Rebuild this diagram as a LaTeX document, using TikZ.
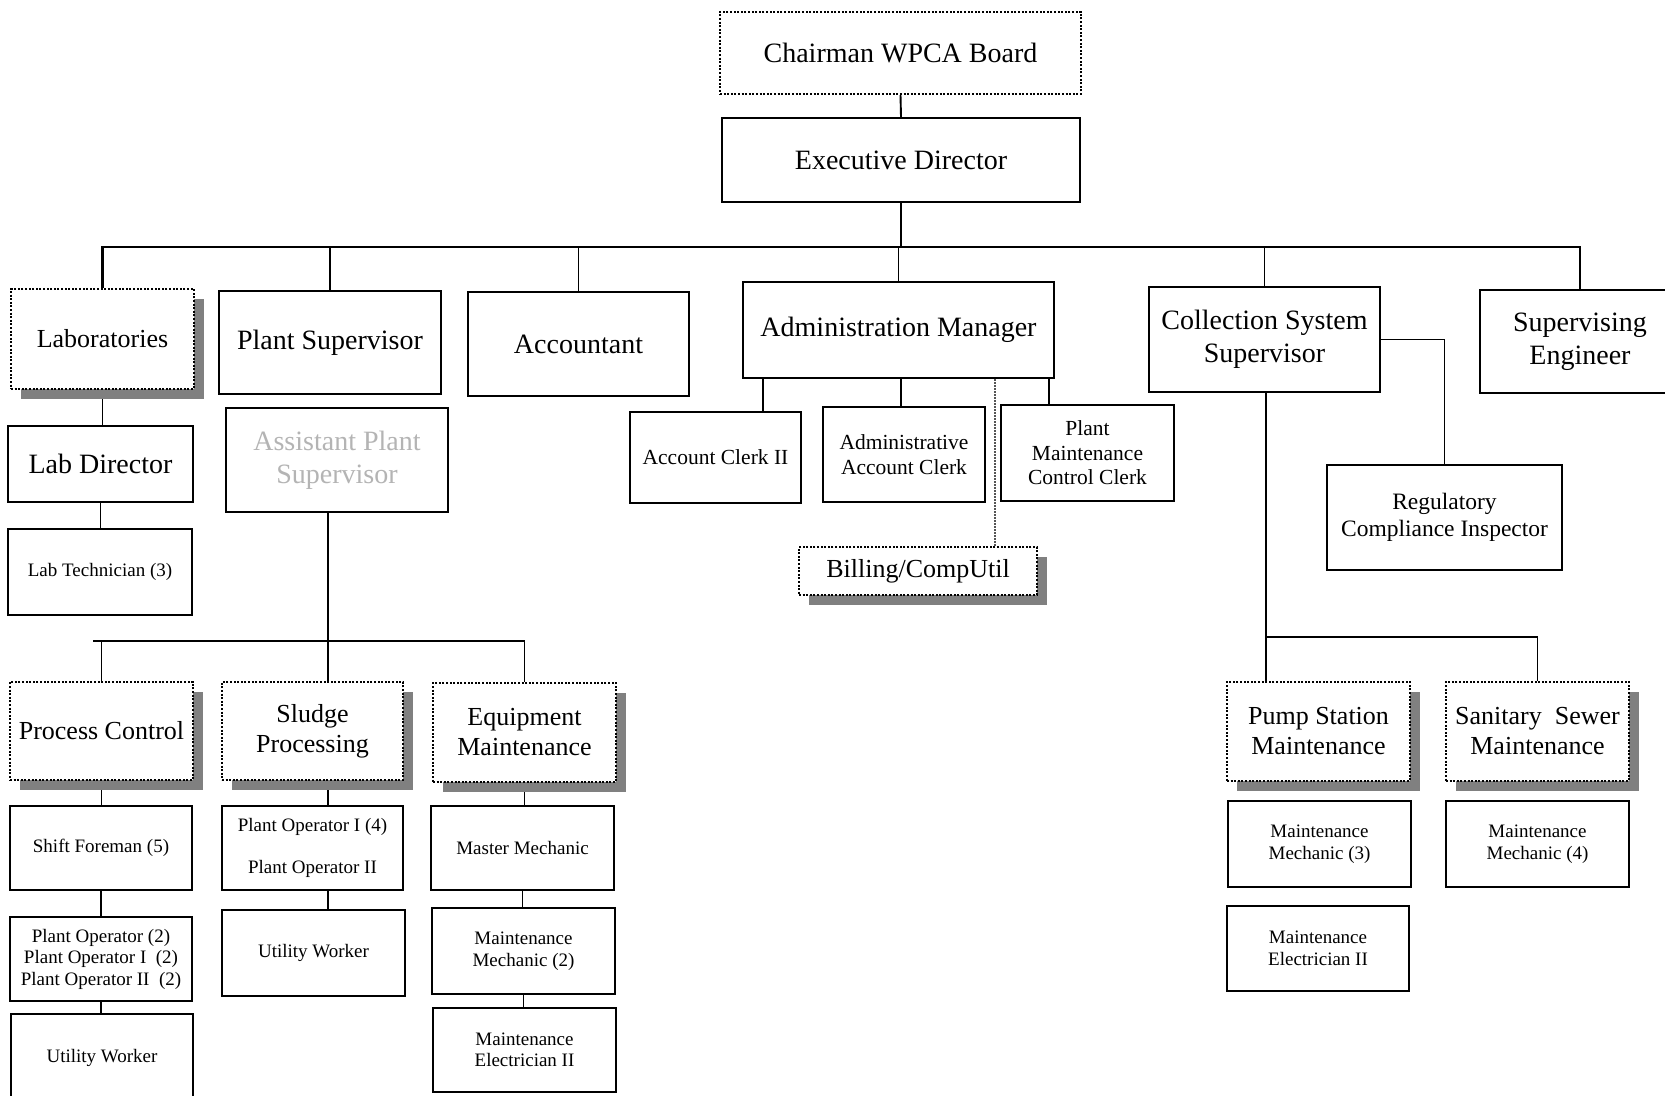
\documentclass[tikz,border=0pt]{standalone}
\usepackage{fontspec}
\setmainfont{Liberation Serif}
\usetikzlibrary{shadows,backgrounds}
\definecolor{shgray}{HTML}{808080}
\definecolor{txtgray}{HTML}{B4B4B4}
\definecolor{dotgray}{HTML}{555555}
\newcommand\orgbox[7][]{\node[#1, minimum width={(#5-#3)*1pt}, minimum height={(#6-#4)*1pt}] (#2) at ({(#3+#5)/2},{(#4+#6)/2}) {#7};}
\tikzset{
  box/.style={draw, line width=2pt, fill=white, inner sep=0pt, align=center},
  dotframe/.style={box, dash pattern=on 2pt off 1.6pt},
  dotbox/.style={dotframe, drop shadow={shadow xshift=10pt, shadow yshift=-10pt, fill=shgray, opacity=1, draw=none}},
  fbig/.style={font=\fontsize{28}{33}\selectfont},
  fmid/.style={font=\fontsize{26}{30}\selectfont},
  fsm/.style={font=\fontsize{19}{21.5}\selectfont},
  fclerk/.style={font=\fontsize{21.5}{24.5}\selectfont},
  freg/.style={font=\fontsize{23.5}{27}\selectfont},
  conn/.style={line width=1.9pt},
  dotconn/.style={line width=1.2pt, draw=dotgray, dash pattern=on 1.5pt off 1.5pt},
}
\begin{document}
\begin{tikzpicture}[x=1pt, y=-1pt]
\useasboundingbox (0,0) rectangle (1665,1095);
% top
\orgbox[dotframe, fbig]{chair}{720}{12}{1081}{94}{Chairman WPCA Board}
\orgbox[box, fbig]{exec}{722}{118}{1080}{202}{Executive Director}
% second row
\orgbox[dotbox, fmid]{labs}{11}{289}{194}{389}{Laboratories}
\orgbox[box, fbig]{ps}{219}{291}{441}{394}{Plant Supervisor}
\orgbox[box, fbig]{acct}{468}{292}{689}{396}{Accountant}
\orgbox[box, fbig]{adm}{743}{282}{1054}{378}{Administration Manager}
\orgbox[box, fbig]{coll}{1149}{287}{1380}{392}{Collection System\\Supervisor}
\orgbox[box, fbig]{seng}{1480}{290}{1680}{393}{Supervising\\Engineer}
% labs column
\orgbox[box, fbig]{labdir}{8}{426}{193}{502}{Lab Director}
\orgbox[box, fsm]{labtech}{8}{529}{192}{615}{Lab Technician (3)}
% plant
\orgbox[box, fbig, text=txtgray]{aps}{226}{408}{448}{512}{Assistant Plant\\Supervisor}
% admin
\orgbox[box, fclerk]{acc2}{630}{412}{801}{503}{Account Clerk II}
\orgbox[box, fclerk]{aac}{823}{407}{985}{502}{Administrative\\Account Clerk}
\orgbox[box, fclerk]{pmcc}{1001}{405}{1174}{501}{Plant\\Maintenance\\Control Clerk}
\orgbox[dotbox, fmid]{bill}{799}{547}{1037}{595}{Billing/CompUtil}
% collection
\orgbox[box, freg]{reg}{1327}{465}{1562}{570}{Regulatory\\Compliance Inspector}
\orgbox[dotbox, fmid]{pump}{1227}{682}{1410}{781}{Pump Station\\Maintenance}
\orgbox[dotbox, fmid]{san}{1446}{682}{1629}{781}{Sanitary\ \ Sewer\\Maintenance}
\orgbox[box, fsm]{mm3}{1228}{801}{1411}{887}{Maintenance\\Mechanic (3)}
\orgbox[box, fsm]{me2}{1227}{906}{1409}{991}{Maintenance\\Electrician II}
\orgbox[box, fsm]{mm4}{1446}{801}{1629}{887}{Maintenance\\Mechanic (4)}
% plant sections
\orgbox[dotbox, fmid]{pc}{10}{682}{193}{780}{Process Control}
\orgbox[dotbox, fmid]{sl}{222}{682}{403}{780}{Sludge\\Processing}
\orgbox[dotbox, fmid]{eq}{433}{683}{616}{782}{Equipment\\Maintenance}
\orgbox[box, fsm]{sf}{10}{806}{192}{890}{Shift Foreman (5)}
\orgbox[box, fsm]{po}{10}{917}{192}{1001}{Plant Operator (2)\\Plant Operator I\ \ (2)\\Plant Operator II\ \ (2)}
\orgbox[box, fsm]{uw1}{11}{1014}{193}{1102}{Utility Worker}
\orgbox[box, fsm]{po4}{222}{806}{403}{890}{Plant Operator I (4)\\[20.5pt]Plant Operator II}
\orgbox[box, fsm]{uw2}{222}{910}{405}{996}{Utility Worker}
\orgbox[box, fsm]{mm}{431}{806}{614}{890}{Master Mechanic}
\orgbox[box, fsm]{mm2}{432}{908}{615}{994}{Maintenance\\Mechanic (2)}
\orgbox[box, fsm]{me}{433}{1008}{616}{1092}{Maintenance\\Electrician II}
% helper coordinates
\coordinate (busy) at (0,247);
\coordinate (xa1) at (763,0);
\coordinate (xa2) at (901,0);
\coordinate (xa3) at (1049,0);
\coordinate (xbill) at (995,0);
\coordinate (cbus) at (1266,637);
\coordinate (xps) at (328,0);
\coordinate (pbL) at (93,641);
\coordinate (pbR) at (525,641);
\begin{scope}[on background layer]
\fill[white] (0,0) rectangle (1665,1095);
\draw[conn] (chair.south) -- (exec.north);
\draw[conn, line width=2.3pt] (exec.south) -- (exec.south |- busy);
\draw[conn, line width=2.2pt] (labs.north) -- (labs.north |- busy) -- (seng.north |- busy) -- (seng.north);
\foreach \n in {ps,acct,adm,coll} \draw[conn] (\n.north) -- (\n.north |- busy);
\draw[conn] (labs.south) -- (labs.south |- labdir.north);
\draw[conn] (labdir.south) -- (labdir.south |- labtech.north);
\draw[conn] (adm.south -| xa1) -- (acc2.north -| xa1);
\draw[conn] (adm.south -| xa2) -- (aac.north -| xa2);
\draw[conn] (adm.south -| xa3) -- (pmcc.north -| xa3);
\draw[dotconn] (adm.south -| xbill) -- (bill.north -| xbill);
\draw[conn] (coll.south -| cbus) -- (pump.north -| cbus);
\draw[conn] (cbus) -| (san.north);
\draw[conn] (coll.east) -| (reg.north);
\draw[conn] (aps.south -| xps) -- (sl.north -| xps);
\draw[conn] (pbL) -- (pbR);
\draw[conn] (pc.north |- pbL) -- (pc.north);
\draw[conn] (eq.north |- pbR) -- (eq.north);
\draw[conn] (pc.south) -- (pc.south |- sf.north);
\draw[conn] (sf.south) -- (sf.south |- po.north);
\draw[conn] (po.south) -- (po.south |- uw1.north);
\draw[conn] (sl.south -| xps) -- (po4.north -| xps);
\draw[conn] (po4.south -| xps) -- (uw2.north -| xps);
\draw[conn] (eq.south) -- (eq.south |- mm.north);
\draw[conn] (mm.south) -- (mm.south |- mm2.north);
\draw[conn] (mm2.south) -- (mm2.south |- me.north);
\end{scope}
\end{tikzpicture}
\end{document}
